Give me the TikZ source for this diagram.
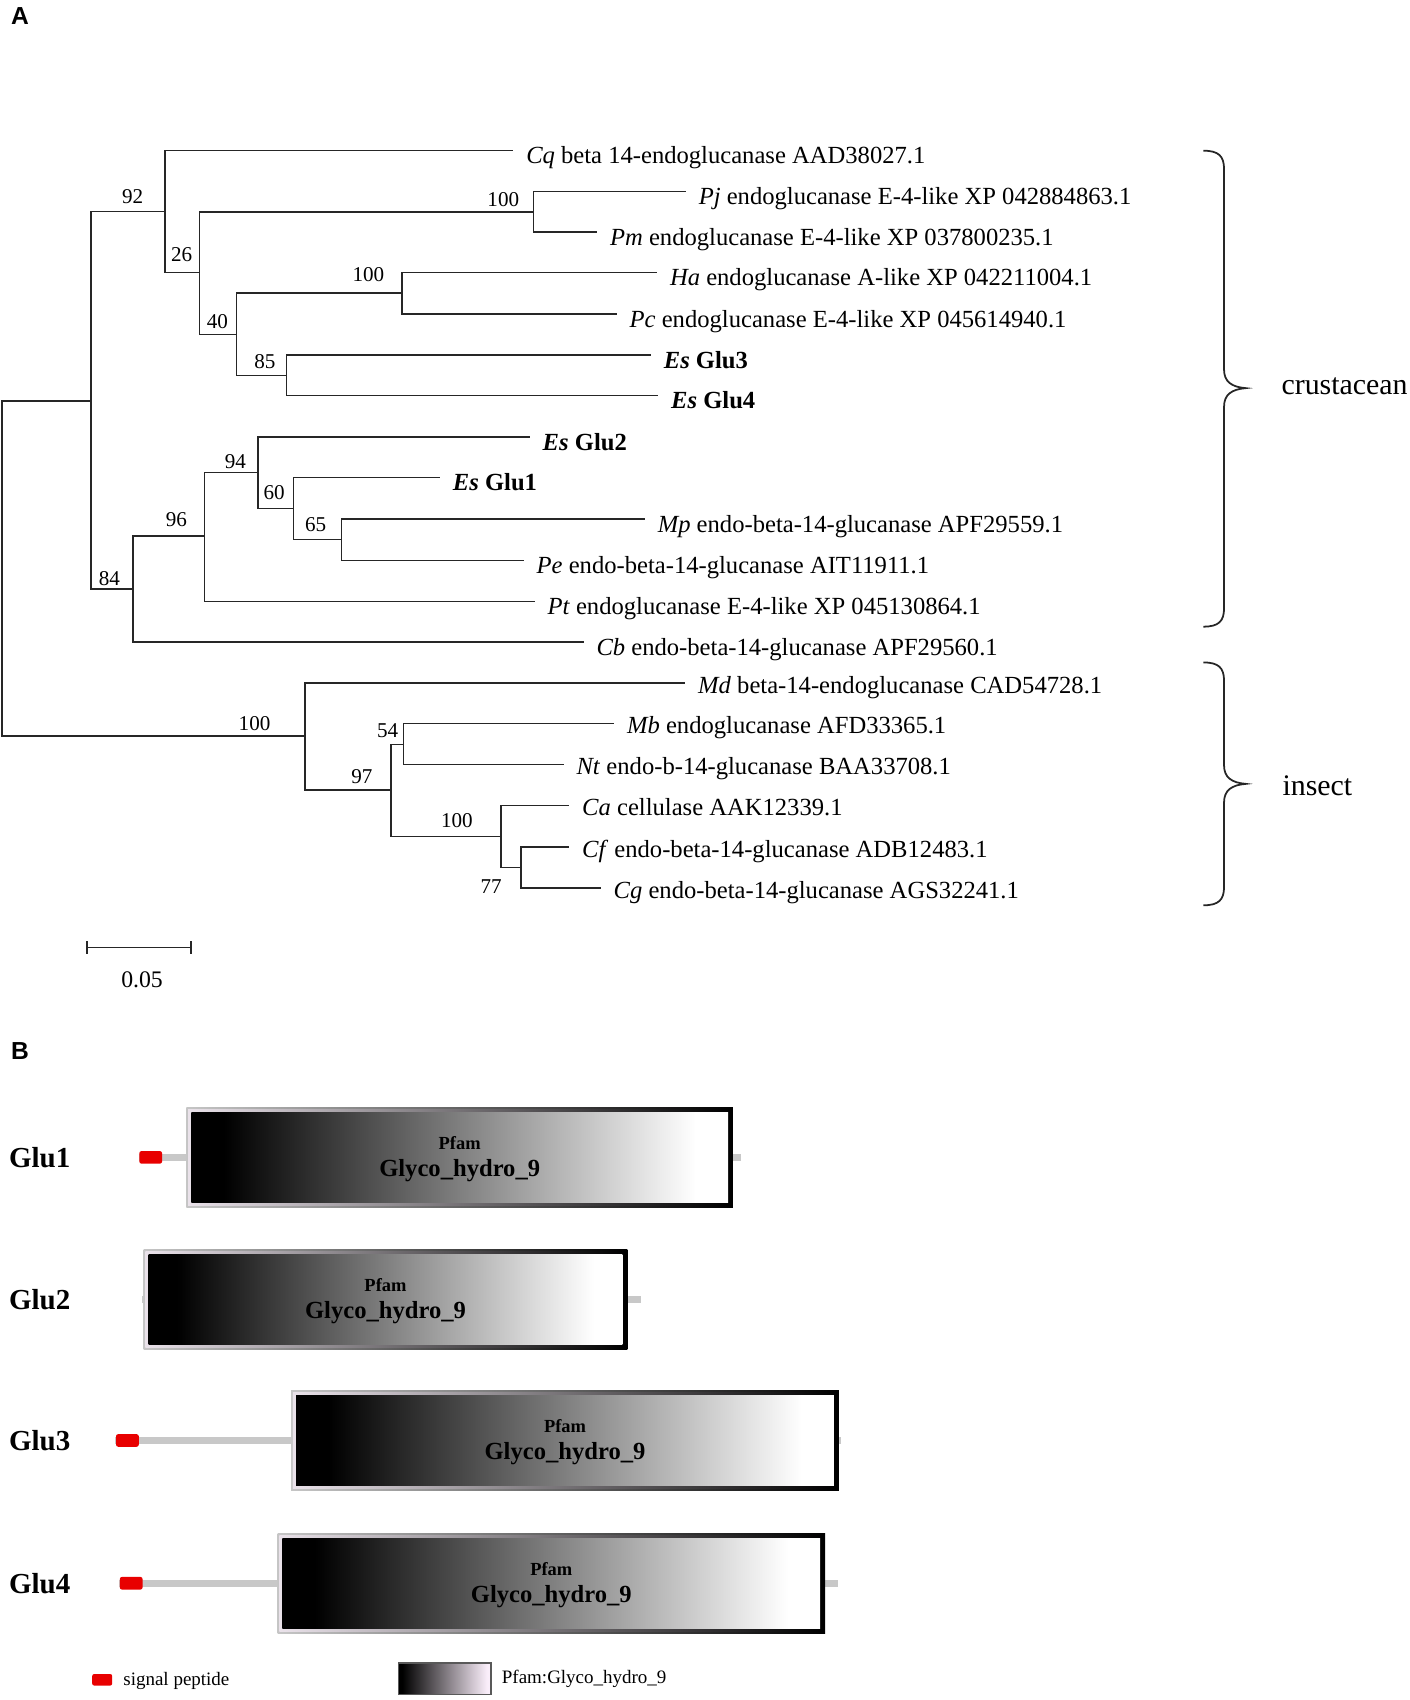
\documentclass[tikz,border=0pt]{standalone}
\usepackage{fontspec}
\setmainfont{Liberation Serif}
\newfontfamily\panelfont{Liberation Sans}
\usetikzlibrary{positioning}
\definecolor{sigred}{RGB}{232,0,0}
\definecolor{backbone}{RGB}{200,200,200}
\definecolor{framegap}{RGB}{234,226,234}
\definecolor{legendwhite}{RGB}{250,238,250}
\pgfdeclarehorizontalshading{glyco}{100bp}{color(0bp)=(black); color(28bp)=(black); color(72bp)=(white); color(100bp)=(white)}
\pgfdeclarehorizontalshading{glycokey}{100bp}{color(0bp)=(black); color(27bp)=(black); color(73bp)=(legendwhite); color(100bp)=(legendwhite)}

\tikzset{
  branch/.style={line width=0.9pt,black!85},
  leaf/.style={anchor=west,inner xsep=2.6mm,inner ysep=0pt,outer sep=0pt,
    text height=15pt,text depth=0pt,font=\fontsize{14}{16}\selectfont},
  leafins/.style={leaf,text height=11.5pt},
  boot/.style={inner sep=0pt,font=\fontsize{12}{14}\selectfont},
  clade/.style={anchor=base west,inner sep=0pt,font=\fontsize{17}{20}\selectfont},
  brace/.style={line width=1pt,black!85},
  panel/.style={inner sep=0pt,font=\panelfont\fontsize{14}{16}\selectfont\bfseries},
  protlabel/.style={anchor=west,inner sep=0pt,font=\fontsize{16.5}{19}\selectfont\bfseries},
  pfam/.style={inner sep=0pt,font=\fontsize{10.5}{12}\selectfont\bfseries},
  domname/.style={inner sep=0pt,font=\fontsize{14}{16}\selectfont\bfseries},
  keytext/.style={anchor=west,inner sep=0pt,font=\fontsize{10.8}{12}\selectfont}
}

\begin{document}
\begin{tikzpicture}[x=0.21676mm,y=-0.21676mm]
  \useasboundingbox (0,0) rectangle (1300,1568);

  \node[panel] (panelA) at (18.5,15) {A};
  \node[panel] (panelB) at (18.5,969) {B};

  % inner nodes of the tree
  \foreach \n/\x/\y in {root/2/524, nA/84/369.7, n92/152.4/195, n26/184/251.5,
      n100a/492/195.3, n40/218/308.4, n100b/371/270.5, n85/264.4/346.5,
      n84/122.5/543.5, n96/188.7/494.5, n94/237.7/435.8, n60/270.6/469.1,
      n65/315/497.7, nB/281.3/679.1, n97/360.8/728.9, n54/372/686.5,
      n100c/462.2/771.4, n77/480.7/800.3}
    \coordinate (\n) at (\x,\y);

  % leaves
  \foreach \n/\x/\y/\t in {
      Cq/473.4/138.7/\textit{Cq} beta 14-endoglucanase AAD38027.1,
      Pj/632.5/176.5/\textit{Pj} endoglucanase E-4-like XP 042884863.1,
      Pm/550.7/214/\textit{Pm} endoglucanase E-4-like XP 037800235.1,
      Ha/606/251.5/\textit{Ha} endoglucanase A-like XP 042211004.1,
      Pc/568.8/289.6/\textit{Pc} endoglucanase E-4-like XP 045614940.1,
      esGlu3/600.3/327.7/\textbf{\textit{Es} Glu3},
      esGlu4/607/364.9/\textbf{\textit{Es} Glu4},
      esGlu2/488.6/403/\textbf{\textit{Es} Glu2},
      esGlu1/405.7/440.5/\textbf{\textit{Es} Glu1},
      Mp/594.7/478.7/\textit{Mp} endo-beta-14-glucanase APF29559.1,
      Pe/483/516.8/\textit{Pe} endo-beta-14-glucanase AIT11911.1,
      Pt/493/554.9/\textit{Pt} endoglucanase E-4-like XP 045130864.1,
      Cb/538.2/592.1/\textit{Cb} endo-beta-14-glucanase APF29560.1}
    \node[leaf] (\n) at (\x,\y) {\t};
  \foreach \n/\x/\y/\t in {
      Md/632/629.9/\textit{Md} beta-14-endoglucanase CAD54728.1,
      Mb/566.4/667.4/\textit{Mb} endoglucanase AFD33365.1,
      Nt/519.8/705.2/\textit{Nt} endo-b-14-glucanase BAA33708.1,
      Ca/525/743/\textit{Ca} cellulase AAK12339.1,
      Cf/525/781.2/\textit{Cf} endo-beta-14-glucanase ADB12483.1,
      Cg/554/819/\textit{Cg} endo-beta-14-glucanase AGS32241.1}
    \node[leafins] (\n) at (\x,\y) {\t};

  \foreach \a/\b in {root/nA, root/nB, nA/n92, nA/n84, n92/Cq, n92/n26,
      n26/n100a, n26/n40, n100a/Pj, n100a/Pm, n40/n100b, n40/n85,
      n100b/Ha, n100b/Pc, n85/esGlu3, n85/esGlu4, n84/n96, n84/Cb,
      n96/n94, n96/Pt, n94/esGlu2, n94/n60, n60/esGlu1, n60/n65,
      n65/Mp, n65/Pe, nB/Md, nB/n97, n97/n54, n97/n100c, n54/Mb, n54/Nt,
      n100c/Ca, n100c/n77, n77/Cf, n77/Cg}
    \draw[branch] (\a) |- (\b);

  % bootstrap values
  \foreach \n/\x/\y/\v in {b92/122.3/181.2/92, b100a/464.2/183.8/100, b26/167.6/234.6/26,
      b40/200.6/296.5/40, b100b/339.8/253.1/100, b85/244.3/333.1/85,
      b94/217.1/425.9/94, b60/252.9/453.9/60, b65/291.2/484/65,
      b96/162.7/479.3/96, b84/100.9/533.3/84, b100c/234.8/667.4/100,
      b54/357.5/673.6/54, b97/333.7/716.6/97, b100d/421.4/756.6/100,
      b77/453/818/77}
    \node[boot] (\n) at (\x,\y) {\v};

  % scale bar
  \coordinate (sbL) at (80.3,874);
  \coordinate (sbR) at (176.3,874);
  \draw[branch] (sbL) -- (sbR);
  \draw[branch] (sbL) ++(0,-6) -- ++(0,12);
  \draw[branch] (sbR) ++(0,-6) -- ++(0,12);
  \node[font=\fontsize{13.5}{15}\selectfont,inner sep=0pt] (sbText) at (131,904) {0.05};

  % clade braces
  \draw[brace] (1110,139) .. controls (1124,139) and (1129,144) .. (1129,156)
    -- (1129,341) .. controls (1129,352) and (1136,357) .. (1149,358)
    .. controls (1136,359) and (1129,364) .. (1129,375)
    -- (1129,561) .. controls (1129,573) and (1124,578) .. (1110,578);
  \draw[brace] (1110,611) .. controls (1124,611) and (1129,616) .. (1129,628)
    -- (1129,706) .. controls (1129,717) and (1136,722) .. (1149,723)
    .. controls (1136,724) and (1129,729) .. (1129,740)
    -- (1129,818) .. controls (1129,830) and (1124,835) .. (1110,835);
  \node[clade] (crus) at (1181.7,364) {crustacean};
  \node[clade] (ins) at (1182.6,733.5) {insect};

  % domain structures
  \foreach \i/\y/\l/\r/\bs/\be/\sp in {1/1067.5/172/676/128/683/1,
      2/1198.5/132.5/578.6/131/591/0, 3/1328.6/268.6/773.7/106.5/776/1,
      4/1460.3/256/761/110/772.7/1}
  {
    \draw[backbone,line width=4.2pt] (\bs,\y) -- (\be,\y);
    \ifnum\sp=1 \fill[sigred,rounded corners=1.2pt] (\bs+0.5,\y-5.8) rectangle ++(21,11.6); \fi
    \shade[left color=gray!45,right color=black] (\l,\y-46) rectangle (\r,\y+46);
    \shade[left color=framegap,right color=black] (\l+1.6,\y-44.4) rectangle (\r-1.6,\y+44.4);
    \shade[shading=glyco] (\l+4.5,\y-41.5) rectangle (\r-4.5,\y+41.5);
    \node[protlabel] (glu\i) at (8,\y) {Glu\i};
    \node[pfam] (pfam\i) at ({(\l+\r)/2},\y-13.2) {Pfam};
    \node[domname] (dom\i) at ({(\l+\r)/2},\y+12) {Glyco\_hydro\_9};
  }

  % key
  \fill[sigred,rounded corners=1.2pt] (85,1544) rectangle (103.5,1554.7);
  \node[keytext] (keySig) at (113.5,1550) {signal peptide};
  \shade[shading=glycokey] (367.6,1534) rectangle (452.6,1563);
  \draw[gray!70!black,line width=1pt] (367.6,1534) rectangle (452.6,1563);
  \node[keytext] (keyPfam) at (462.6,1548.6) {Pfam:Glyco\_hydro\_9};
\end{tikzpicture}
\end{document}
